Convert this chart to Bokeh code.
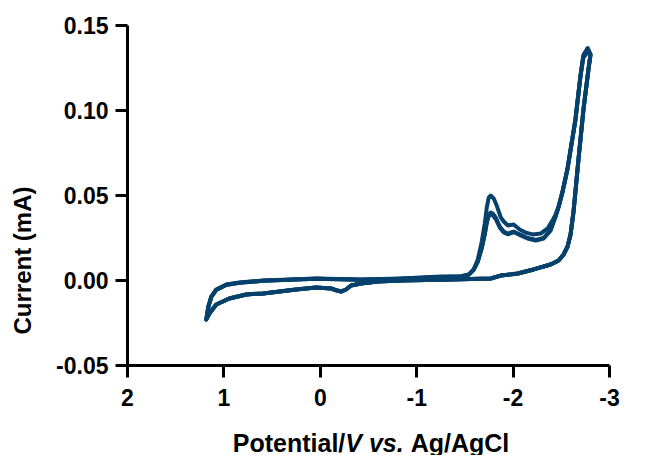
import math
from bokeh.plotting import figure
from bokeh.models import Range1d, FixedTicker, PrintfTickFormatter, Label
from bokeh.embed import file_html
from bokeh.resources import INLINE

# ---- data (potential in V vs Ag/AgCl, current in mA) ----
fwd_potential = [1.182, 1.151, 1.079, 0.944, 0.768, 0.592, 0.251, 0.044, -0.112, -0.174,
                 -0.215, -0.267, -0.319, -0.422, -0.598, -0.836, -1.354, -1.768, -1.872, -2.048,
                 -2.213, -2.389, -2.472, -2.524, -2.565, -2.596, -2.627, -2.679, -2.731, -2.783,
                 -2.803, -2.772]
fwd_current = [-0.0229, -0.0194, -0.0141, -0.0106, -0.0082, -0.0076, -0.0053, -0.0041, -0.0047, -0.0059,
               -0.0065, -0.0053, -0.0029, -0.0018, -0.0006, 0.0, 0.0006, 0.0012, 0.0029, 0.0041,
               0.0065, 0.0094, 0.0118, 0.0153, 0.0200, 0.0271, 0.0406, 0.0718, 0.1012, 0.1247,
               0.1329, 0.1365]

cycle1_ret_potential = [-2.772, -2.731, -2.700, -2.648, -2.565, -2.513, -2.472, -2.441, -2.420, -2.358,
                        -2.286, -2.203, -2.130, -2.068, -2.006, -1.944, -1.903, -1.872, -1.830, -1.799,
                        -1.768, -1.747, -1.727, -1.706, -1.675, -1.634, -1.592, -1.540, -1.458, -1.251,
                        -0.836, -0.422, 0.044, 0.592, 0.841, 0.975, 1.079, 1.130, 1.161, 1.182]
cycle1_ret_current = [0.1365, 0.1329, 0.1212, 0.0953, 0.0659, 0.0524, 0.0435, 0.0388, 0.0365, 0.0306,
                      0.0276, 0.0271, 0.0282, 0.0300, 0.0329, 0.0324, 0.0347, 0.0371, 0.0441, 0.0482,
                      0.0500, 0.0488, 0.0429, 0.0335, 0.0229, 0.0124, 0.0065, 0.0035, 0.0024, 0.0024,
                      0.0012, 0.0006, 0.0012, 0.0, -0.0012, -0.0024, -0.0053, -0.0094, -0.0153, -0.0229]

cycle23_ret_potential = [-2.768, -2.728, -2.698, -2.646, -2.563, -2.511, -2.470, -2.441, -2.389, -2.317,
                         -2.234, -2.151, -2.079, -2.006, -1.944, -1.903, -1.861, -1.820, -1.789, -1.768,
                         -1.747, -1.727, -1.706, -1.675, -1.634, -1.592, -1.540, -1.458, -1.251, -0.836,
                         -0.422, 0.044, 0.592, 0.841, 0.975, 1.079, 1.130, 1.161, 1.182]
cycle2_ret_current = [0.1340, 0.1310, 0.1195, 0.0940, 0.0650, 0.0515, 0.0428, 0.0376, 0.0294, 0.0247,
                      0.0235, 0.0247, 0.0265, 0.0288, 0.0276, 0.0288, 0.0318, 0.0371, 0.0394, 0.0400,
                      0.0388, 0.0347, 0.0276, 0.0194, 0.0112, 0.0065, 0.0035, 0.0024, 0.0020, 0.0010,
                      0.0004, 0.0010, -0.0002, -0.0014, -0.0026, -0.0055, -0.0096, -0.0155, -0.0229]
cycle3_ret_current = [0.1355, 0.1320, 0.1200, 0.0945, 0.0655, 0.0520, 0.0430, 0.0380, 0.0298, 0.0250,
                      0.0238, 0.0250, 0.0268, 0.0285, 0.0272, 0.0283, 0.0312, 0.0362, 0.0384, 0.0390,
                      0.0378, 0.0338, 0.0270, 0.0190, 0.0110, 0.0064, 0.0034, 0.0024, 0.0019, 0.0010,
                      0.0005, 0.0011, -0.0001, -0.0013, -0.0025, -0.0054, -0.0095, -0.0154, -0.0229]

x_ticks = [2, 1, 0, -1, -2, -3]
y_ticks = [-0.05, 0.0, 0.05, 0.10, 0.15]
x_axis_span = (-3, 2)
y_axis_span = (-0.05, 0.15)

COLOR = "#06416c"
FONT = "Liberation Sans"

# The frame covers the whole canvas; the axes sit at fixed data locations so
# the axis titles (drawn as labels) can live in the free margin of the frame.
W, H = 656, 455
LEFT_PX, RIGHT_PX, TOP_PX, BOTTOM_PX = 127, 609, 25, 365
px_per_v = (RIGHT_PX - LEFT_PX) / (x_axis_span[1] - x_axis_span[0])
px_per_ma = (BOTTOM_PX - TOP_PX) / (y_axis_span[1] - y_axis_span[0])
x_start = x_axis_span[1] + LEFT_PX / px_per_v
x_end = x_axis_span[0] - (W - RIGHT_PX) / px_per_v
y_start = y_axis_span[0] - (H - BOTTOM_PX) / px_per_ma
y_end = y_axis_span[1] + TOP_PX / px_per_ma


def cx(px):
    return x_start - px / px_per_v


def cy(py):
    return y_end - py / px_per_ma


p = figure(width=W, height=H, x_range=Range1d(x_start, x_end), y_range=Range1d(y_start, y_end),
           output_backend="svg", toolbar_location=None, min_border=0)
p.title.visible = False
p.outline_line_color = None
p.xgrid.visible = False
p.ygrid.visible = False
p.background_fill_color = "white"
p.border_fill_color = "white"

cycles = [
    (fwd_potential + cycle1_ret_potential, fwd_current + cycle1_ret_current),
    (fwd_potential + cycle23_ret_potential, fwd_current + cycle2_ret_current),
    (fwd_potential + cycle23_ret_potential, fwd_current + cycle3_ret_current),
]
for xs, ys in cycles:
    p.line(xs, ys, line_color=COLOR, line_width=4, line_join="round", line_cap="round")

for ax in (p.xaxis[0], p.yaxis[0]):
    ax.axis_line_width = 3
    ax.axis_line_color = "black"
    ax.major_tick_line_width = 3
    ax.major_tick_line_color = "black"
    ax.major_tick_out = 12
    ax.major_tick_in = 0
    ax.minor_tick_line_color = None
    ax.major_label_text_font = FONT
    ax.major_label_text_font_style = "bold"
    ax.major_label_text_font_size = "23px"
    ax.major_label_text_color = "black"

p.xaxis[0].ticker = FixedTicker(ticks=x_ticks)
p.xaxis[0].formatter = PrintfTickFormatter(format="%d")
p.xaxis[0].major_label_standoff = 11
p.xaxis[0].fixed_location = y_axis_span[0]
p.xaxis[0].bounds = x_axis_span
p.yaxis[0].ticker = FixedTicker(ticks=y_ticks)
p.yaxis[0].formatter = PrintfTickFormatter(format="%.2f")
p.yaxis[0].major_label_standoff = 7
p.yaxis[0].fixed_location = x_axis_span[1]
p.yaxis[0].bounds = y_axis_span

# axis titles
p.add_layout(Label(x=cx(22), y=cy(260), text="Current (mA)",
                   angle=math.pi / 2, text_align="center", text_baseline="alphabetic",
                   text_font=FONT, text_font_style="bold", text_font_size="24px", text_color="black"))
pieces = [("Potential/", "bold", 232.3), ("V", "bold italic", 344.8),
          ("vs.", "bold italic", 368.4), ("Ag/AgCl", "bold", 410.2)]
for txt, style, px in pieces:
    p.add_layout(Label(x=cx(px), y=cy(442), text=txt,
                       text_align="left", text_baseline="alphabetic",
                       text_font=FONT, text_font_style=style, text_font_size="25px",
                       text_color="black"))

open("out.html", "w").write(file_html(p, INLINE))
